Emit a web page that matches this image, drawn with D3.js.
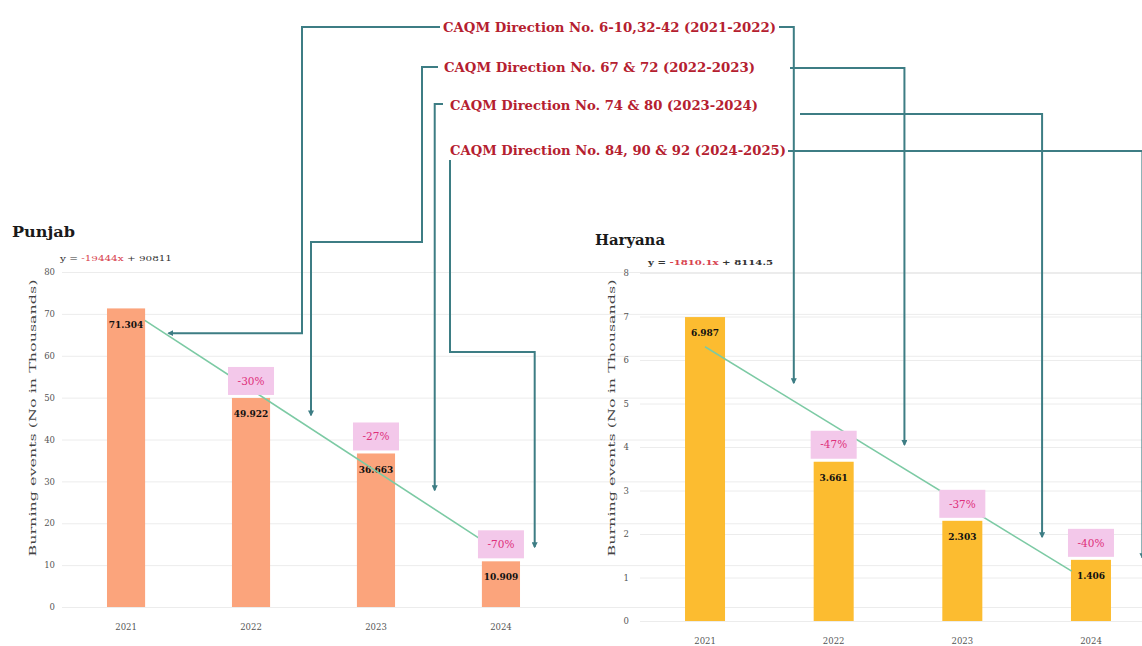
<!DOCTYPE html>
<html>
<head>
<meta charset="utf-8">
<script src="https://cdn.jsdelivr.net/npm/d3@7"></script>
<style>
    body { margin: 0; background: #ffffff; }
    svg text { font-family: "DejaVu Serif", serif; }
</style>
</head>
<body>
<div id="chart"></div>
<script>
// ---- data ----
const years = ["2021", "2022", "2023", "2024"];
const punjabValues = [71.304, 49.922, 36.663, 10.909];
const haryanaValues = [6.987, 3.661, 2.303, 1.406];
const punjabChange = [null, "-30%", "-27%", "-70%"];
const haryanaChange = [null, "-47%", "-37%", "-40%"];
const punjabTicks = [0, 10, 20, 30, 40, 50, 60, 70, 80];
const haryanaTicks = [0, 1, 2, 3, 4, 5, 6, 7, 8];
const punjabEquation = ["y = ", "-19444x", " + 90811"];
const haryanaEquation = ["y = ", "-1810.1x", " + 8114.5"];
const directions = [
    "CAQM Direction No. 6-10,32-42 (2021-2022)",
    "CAQM Direction No. 67 & 72 (2022-2023)",
    "CAQM Direction No. 74 & 80 (2023-2024)",
    "CAQM Direction No. 84, 90 & 92 (2024-2025)"
];
// where each direction's arrow lands, as [bar position, value]
const punjabTargets = [[0.34, 65.4], [1.48, 45.8], [2.47, 27.9], [3.27, 14.3]];
const haryanaTargets = [[0.69, 5.47], [1.55, 4.05], [2.62, 1.93], [3.40, 1.45]];

const width = 1142, height = 646;
const connectorColor = "#3d7d84";

const svg = d3.select("#chart").append("svg")
    .attr("width", width)
    .attr("height", height);

svg.append("defs").append("marker")
    .attr("id", "arrow")
    .attr("viewBox", "0 0 10 10")
    .attr("refX", 8)
    .attr("refY", 5)
    .attr("markerWidth", 6)
    .attr("markerHeight", 6)
    .attr("markerUnits", "userSpaceOnUse")
    .attr("orient", "auto")
    .append("path")
    .attr("d", "M0,0 L10,5 L0,10 z")
    .attr("fill", connectorColor);

class BarPanel {
    constructor(svg, opts) {
        this.svg = svg;
        this.opts = opts;
        this.initVis();
    }

    initVis() {
        let vis = this;
        let o = vis.opts;

        vis.g = vis.svg.append("g");

        vis.x = d3.scaleBand()
            .domain(years)
            .range([o.x0, o.x1])
            .paddingInner(o.padInner)
            .paddingOuter(o.padOuter);

        vis.y = d3.scaleLinear()
            .domain([0, d3.max(o.ticks)])
            .range([o.yBottom, o.yTop]);

        // gridlines + y tick labels
        let yAxis = vis.g.append("g")
            .attr("transform", `translate(${o.x0},0)`)
            .call(d3.axisLeft(vis.y)
                .tickValues(o.ticks)
                .tickSize(-(width - o.x0))
                .tickPadding(o.tickPad));
        yAxis.select(".domain").remove();
        yAxis.selectAll("line").attr("stroke", "#ececec");
        yAxis.selectAll("text")
            .attr("fill", "#555")
            .style("font-size", "8.5px");

        // x labels
        let xAxis = vis.g.append("g")
            .attr("transform", `translate(0,${o.yBottom + 14})`)
            .call(d3.axisBottom(vis.x).tickSize(0));
        xAxis.select(".domain").remove();
        xAxis.selectAll("text")
            .attr("fill", "#555")
            .style("font-size", "8.5px");

        // title
        vis.g.append("text")
            .attr("x", o.titleX)
            .attr("y", o.titleY)
            .attr("textLength", o.titleLen)
            .attr("lengthAdjust", "spacingAndGlyphs")
            .style("font-size", "15px")
            .style("font-weight", "bold")
            .attr("fill", "#1a1a1a")
            .text(o.title);

        // trend equation
        let eq = vis.g.append("text")
            .attr("x", o.eqX)
            .attr("y", o.eqY)
            .attr("textLength", o.eqLen)
            .attr("lengthAdjust", "spacingAndGlyphs")
            .style("font-size", "8px")
            .style("font-weight", o.eqBold ? "bold" : "normal")
            .attr("fill", "#333");
        o.equation.forEach((part, i) => {
            eq.append("tspan")
                .attr("fill", i == 1 ? "#d8434f" : "#333")
                .text(part);
        });

        // y axis title
        vis.g.append("text")
            .attr("transform", `translate(${o.yTitleX},${o.yTitleY}) rotate(-90)`)
            .attr("text-anchor", "middle")
            .attr("dy", "0.35em")
            .attr("textLength", 277)
            .attr("lengthAdjust", "spacingAndGlyphs")
            .style("font-size", "9.5px")
            .attr("fill", "#444")
            .text("Burning events (No in Thousands)");

        // bars
        vis.g.selectAll(".bar")
            .data(o.values)
            .enter().append("rect")
            .attr("class", "bar")
            .attr("x", (d, i) => vis.x(years[i]))
            .attr("y", d => vis.y(d))
            .attr("width", vis.x.bandwidth())
            .attr("height", d => o.yBottom - vis.y(d))
            .attr("fill", o.color);

        // value labels
        vis.g.selectAll(".val")
            .data(o.values)
            .enter().append("text")
            .attr("class", "val")
            .attr("x", (d, i) => vis.x(years[i]) + vis.x.bandwidth() / 2)
            .attr("y", d => vis.y(d) + 16)
            .attr("dy", "0.35em")
            .attr("text-anchor", "middle")
            .style("font-size", "9px")
            .style("font-weight", "bold")
            .attr("fill", "#111")
            .text(d => d.toFixed(3));

        // trend line (least squares over year index)
        let xs = o.values.map((d, i) => i + 1);
        let mx = d3.mean(xs), my = d3.mean(o.values);
        let slope = d3.sum(xs, (xv, i) => (xv - mx) * (o.values[i] - my)) / d3.sum(xs, xv => (xv - mx) ** 2);
        let icpt = my - slope * mx;
        let line = d3.line()
            .x(p => vis.xAt(p))
            .y(p => vis.y(icpt + slope * (p + 1)));
        vis.g.append("path")
            .datum([o.trendFrom, o.trendTo])
            .attr("d", line)
            .attr("fill", "none")
            .attr("stroke", "#7ccaa4")
            .attr("stroke-width", 1.6);

        // change boxes
        let boxes = vis.g.selectAll(".chg")
            .data(o.values.map((v, i) => ({v: v, i: i, label: o.change[i]})).filter(d => d.label))
            .enter().append("g")
            .attr("class", "chg")
            .attr("transform", d => `translate(${vis.x(years[d.i]) + vis.x.bandwidth() / 2},${vis.y(d.v) - 3})`);
        boxes.append("rect")
            .attr("x", -23)
            .attr("y", -28)
            .attr("width", 46)
            .attr("height", 28)
            .attr("fill", "#f3c8ea");
        boxes.append("text")
            .attr("y", -14)
            .attr("dy", "0.35em")
            .attr("text-anchor", "middle")
            .style("font-size", "10.5px")
            .attr("fill", "#de2f7a")
            .text(d => d.label);
    }

    xAt(pos) {
        let vis = this;
        return vis.x(years[0]) + vis.x.bandwidth() / 2 + pos * vis.x.step();
    }

    point(t) {
        return [this.xAt(t[0]), this.y(t[1])];
    }
}

let punjab = new BarPanel(svg, {
    title: "Punjab", titleX: 12, titleY: 237, titleLen: 63,
    equation: punjabEquation, eqX: 60, eqY: 261, eqLen: 112, eqBold: false,
    values: punjabValues, change: punjabChange, ticks: punjabTicks,
    color: "#fba47c",
    x0: 62, x1: 565, padInner: 0.695, padOuter: 0.36,
    yTop: 272, yBottom: 607, tickPad: 7,
    yTitleX: 33, yTitleY: 418,
    trendFrom: 0.15, trendTo: 2.83
});

let haryana = new BarPanel(svg, {
    title: "Haryana", titleX: 595, titleY: 245, titleLen: 70,
    equation: haryanaEquation, eqX: 648, eqY: 265, eqLen: 125, eqBold: true,
    values: haryanaValues, change: haryanaChange, ticks: haryanaTicks,
    color: "#fcbc30",
    x0: 640, x1: 1156, padInner: 0.689, padOuter: 0.35,
    yTop: 273, yBottom: 621, tickPad: 11,
    yTitleX: 612, yTitleY: 418,
    trendFrom: 0, trendTo: 2.85
});

// ---- direction annotations ----
const textPos = [
    {x: 443, y: 32, len: 333},
    {x: 444, y: 72, len: 311},
    {x: 450, y: 110, len: 308},
    {x: 450, y: 155, len: 336}
];

svg.selectAll(".direction")
    .data(directions)
    .enter().append("text")
    .attr("class", "direction")
    .attr("x", (d, i) => textPos[i].x)
    .attr("y", (d, i) => textPos[i].y)
    .attr("textLength", (d, i) => textPos[i].len)
    .attr("lengthAdjust", "spacingAndGlyphs")
    .style("font-size", "13px")
    .style("font-weight", "bold")
    .attr("fill", "#b5202f")
    .text(d => d);

let pT = punjabTargets.map(t => punjab.point(t));
let hT = haryanaTargets.map(t => haryana.point(t));

let routes = [
    // left side, into Punjab
    [[440, 27], [302, 27], [302, pT[0][1]], pT[0]],
    [[438, 67], [422, 67], [422, 242], [pT[1][0], 242], pT[1]],
    [[443, 104], [pT[2][0], 104], pT[2]],
    [[450, 160], [450, 352], [pT[3][0], 352], pT[3]],
    // right side, into Haryana
    [[779, 27], [hT[0][0], 27], hT[0]],
    [[790, 68], [hT[1][0], 68], hT[1]],
    [[800, 114], [hT[2][0], 114], hT[2]],
    [[788, 151], [hT[3][0], 151], hT[3]]
];

svg.selectAll(".connector")
    .data(routes)
    .enter().append("path")
    .attr("class", "connector")
    .attr("d", d3.line())
    .attr("fill", "none")
    .attr("stroke", connectorColor)
    .attr("stroke-width", 2)
    .attr("marker-end", "url(#arrow)");
</script>
</body>
</html>
